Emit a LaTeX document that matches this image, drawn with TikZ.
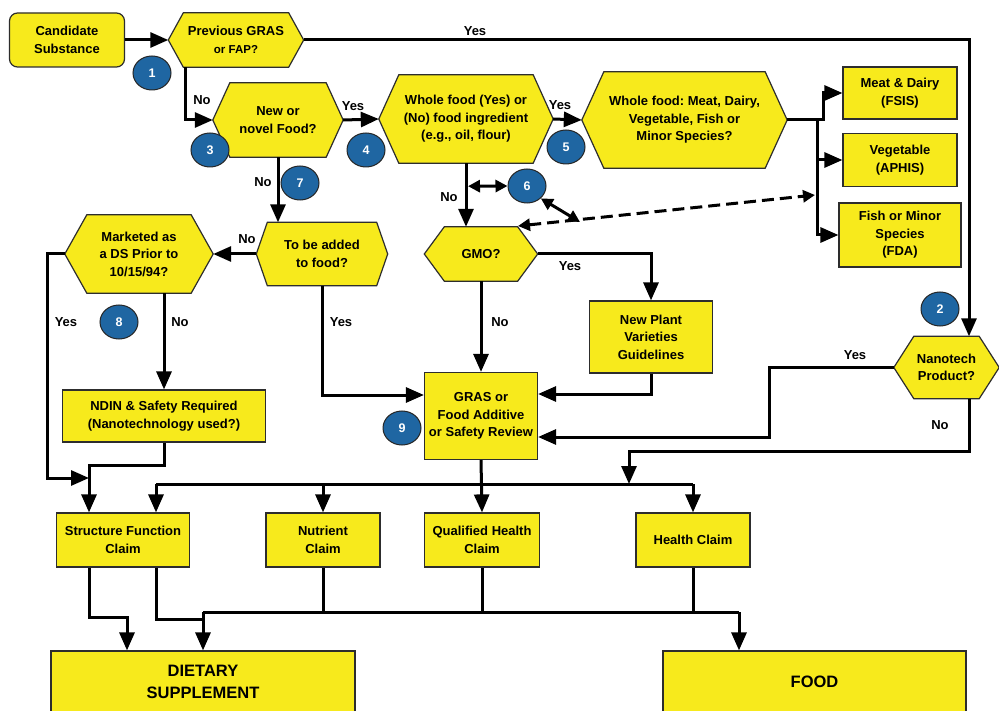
\documentclass[tikz,border=0pt]{standalone}
\usepackage{fontspec}
\setmainfont{Liberation Sans}
\usetikzlibrary{arrows.meta,shapes.geometric,backgrounds,calc}
\frenchspacing

\definecolor{boxyellow}{RGB}{247,234,28}
\definecolor{badgeblue}{RGB}{31,102,162}
\definecolor{edgegray}{RGB}{45,45,45}

\tikzset{
  base/.style={font=\bfseries\fontsize{13}{17.5}\selectfont, align=center, inner sep=0pt},
  box/.style={base, draw=edgegray, line width=1.2pt, fill=boxyellow},
  hexnode/.style={base},
  bigbox/.style={box, font=\bfseries\fontsize{16.5}{22}\selectfont},
  badge/.style={ellipse, draw=black!85, line width=1pt, fill=badgeblue, text=white,
    font=\bfseries\fontsize{12.5}{14}\selectfont, minimum width=38pt, minimum height=34pt, inner sep=0pt},
  lbl/.style={font=\bfseries\fontsize{13}{15}\selectfont, inner sep=0pt},
  conn/.style={line width=3pt, draw=black, line join=miter},
  arr/.style={conn, -{Triangle[length=18pt,width=15pt]}},
  darr/.style={line width=3pt, draw=black, {Triangle[length=12pt,width=12pt]}-{Triangle[length=12pt,width=12pt]}},
  dasharr/.style={darr, dash pattern=on 12pt off 6pt},
}

% outline of a hexagonal decision node, drawn behind its text
\newcommand\hexoutline[2]{%
  \draw[draw=edgegray, line width=1.2pt, fill=boxyellow, line join=miter]
    (#1.west) -- ([xshift=#2pt]#1.north west) -- ([xshift=-#2pt]#1.north east)
    -- (#1.east) -- ([xshift=-#2pt]#1.south east) -- ([xshift=#2pt]#1.south west) -- cycle;}

\begin{document}
\begin{tikzpicture}[x=1pt, y=-1pt]
\useasboundingbox (0,0) rectangle (999,711);
\clip (0,0) rectangle (999,711);

% ---- nodes ----
\node[box, rounded corners=8pt, minimum width=115pt, minimum height=54pt] (cand) at (67,40) {Candidate\\Substance};
\node[hexnode, minimum width=135pt, minimum height=54pt] (prev) at (236,40) {Previous GRAS\\{\fontsize{11.5}{14}\selectfont or FAP?}};
\node[hexnode, minimum width=130pt, minimum height=74pt] (novel) at (278,120) {New or\\novel Food?};
\node[hexnode, minimum width=174pt, minimum height=88pt] (whole) at (466,119) {Whole food (Yes) or\\(No) food ingredient\\(e.g., oil, flour)};
\node[hexnode, minimum width=205pt, minimum height=96pt] (wfood) at (684.5,120) {Whole food: Meat, Dairy,\\Vegetable, Fish or\\Minor Species?};
\node[box, minimum width=114pt, minimum height=52pt] (meat) at (900,93) {Meat \& Dairy\\(FSIS)};
\node[box, minimum width=114pt, minimum height=53pt] (veg) at (900,160) {Vegetable\\(APHIS)};
\node[box, minimum width=122pt, minimum height=64pt] (fish) at (900,235) {Fish or Minor\\Species\\(FDA)};
\node[hexnode, minimum width=113pt, minimum height=54pt] (gmo) at (481,254) {GMO?};
\node[box, minimum width=123pt, minimum height=72pt] (newplant) at (651,337) {New Plant\\Varieties\\Guidelines};
\node[box, minimum width=113pt, minimum height=87pt] (gras) at (481,416) {GRAS or\\Food Additive\\or Safety Review};
\node[hexnode, minimum width=131pt, minimum height=63pt] (tobe) at (322,254) {To be added\\to food?};
\node[hexnode, minimum width=148pt, minimum height=78pt] (market) at (139,254) {Marketed as\\a DS Prior to\\10/15/94?};
\node[box, minimum width=203pt, minimum height=52pt] (ndin) at (164,416) {NDIN \& Safety Required\\(Nanotechnology used?)};
\node[hexnode, minimum width=105pt, minimum height=62pt] (nano) at (946.5,367.5) {Nanotech\\Product?};
\node[box, minimum width=133pt, minimum height=54pt] (sfc) at (123,540) {Structure Function\\Claim};
\node[box, minimum width=114pt, minimum height=54pt] (nutr) at (323,540) {Nutrient\\Claim};
\node[box, minimum width=115pt, minimum height=54pt] (qhc) at (482,540) {Qualified Health\\Claim};
\node[box, minimum width=114pt, minimum height=54pt] (hc) at (693,540) {Health Claim};
\node[bigbox, minimum width=304pt, minimum height=62pt] (ds) at (203,682) {DIETARY\\SUPPLEMENT};
\node[bigbox, minimum width=303pt, minimum height=62pt] (food) at (814.5,682) {FOOD};

\begin{scope}[on background layer]
  \fill[white] (0,0) rectangle (999,711);
  \hexoutline{prev}{15}
  \hexoutline{novel}{17}
  \hexoutline{whole}{20}
  \hexoutline{wfood}{22}
  \hexoutline{gmo}{20}
  \hexoutline{tobe}{11}
  \hexoutline{market}{22}
  \hexoutline{nano}{20}
\end{scope}

% ---- junction points ----
\coordinate (bus) at (817,120);
\coordinate (dstart) at (518,226);
\coordinate (dend) at (815,195);
\coordinate (d6) at (580,222);
\coordinate (sfin) at (89,478);
\coordinate (nanojoin) at (629,484);
\coordinate (busL) at (156,484);
\coordinate (busR) at (693,484);
\coordinate (b2L) at (203,612);
\coordinate (b2R) at (739,612);
\coordinate (sf2) at (203,619);

% ---- numbered badges ----
\node[badge] (c1) at (152,73) {1};
\node[badge] (c2) at (940,309) {2};
\node[badge] (c3) at (210,150) {3};
\node[badge] (c4) at (366,150) {4};
\node[badge] (c5) at (566,147) {5};
\node[badge] (c6) at (527,186) {6};
\node[badge] (c7) at (300,183) {7};
\node[badge] (c8) at (119,322) {8};
\node[badge] (c9) at (402,428) {9};

% ---- connectors ----
\draw[arr] (cand.east) -- (prev.west);
\draw[arr] (prev.east) -| ([xshift=22.5pt]nano.north);
\draw[arr] ([xshift=-51pt]prev.south) |- (novel.west);
\draw[arr] (novel.east) -- (whole.west);
\draw[arr] (whole.east) -- (wfood.west);
\draw[arr] (wfood.east) -- ++(36,0) |- (meat.west);
\draw[conn] (wfood.east) -- (bus);
\draw[arr] (bus) |- (fish.west);
\draw[arr] (bus |- veg.west) -- (veg.west);
\draw[arr] (whole.south) -- (whole.south |- gmo.north);
\draw[darr] ([xshift=2pt,yshift=-23pt]whole.south) -- (c6.west);
\draw[darr] (c6.south east) -- (d6);
\draw[dasharr] (dstart) -- (dend);
\draw[arr] (gmo.east) -| (newplant.north);
\draw[arr] (newplant.south) |- ([yshift=22pt]gras.east);
\draw[arr] (gmo.south) -- (gras.north);
\draw[arr] (nano.west) -- ++(-124,0) |- ([yshift=-21pt]gras.east);
\draw[arr] ([xshift=22.5pt]nano.south) -- ++(0,53) -| (nanojoin);
\draw[arr] (novel.south) -- (novel.south |- tobe.north);
\draw[arr] (tobe.west) -- (market.east);
\draw[arr] (tobe.south) |- ([yshift=21pt]gras.west);
\draw[arr] (market.west) -- ++(-17,0) |- (sfin);
\draw[arr] ([xshift=25pt]market.south) -- (ndin.north);
\draw[conn] (ndin.south) -- ++(0,23) -| (sfin);
\draw[arr] (sfin) -- (sfin |- sfc.north);
\draw[arr] (gras.south) -- (qhc.north);
\draw[conn] (busL) -- (busR);
\draw[arr] (busL) -- (busL |- sfc.north);
\draw[arr] (nutr.north |- busL) -- (nutr.north);
\draw[arr] (busR) -- (hc.north);
\draw[arr] ([xshift=-34pt]sfc.south) -- ++(0,50) -| ([xshift=-76pt]ds.north);
\draw[conn] ([xshift=33pt]sfc.south) |- (sf2);
\draw[conn] (b2L) -- (b2R);
\draw[conn] (nutr.south) -- (nutr.south |- b2L);
\draw[conn] (qhc.south) -- (qhc.south |- b2L);
\draw[conn] (hc.south) -- (hc.south |- b2L);
\draw[arr] (b2L) -- (ds.north);
\draw[arr] (b2R) -- (b2R |- food.north);

% ---- branch labels ----
\node[lbl] (y1) at (475,31) {Yes};
\node[lbl] (n1) at (202,100) {No};
\node[lbl] (y2) at (353,106) {Yes};
\node[lbl] (y3) at (560,105) {Yes};
\node[lbl] (n2) at (263,182) {No};
\node[lbl] (n3) at (449,197) {No};
\node[lbl] (y4) at (570,266) {Yes};
\node[lbl] (n4) at (247,239) {No};
\node[lbl] (y5) at (66,322) {Yes};
\node[lbl] (n5) at (180,322) {No};
\node[lbl] (y6) at (341,322) {Yes};
\node[lbl] (n6) at (500,322) {No};
\node[lbl] (y7) at (855,355) {Yes};
\node[lbl] (n7) at (940,425) {No};
\end{tikzpicture}
\end{document}
